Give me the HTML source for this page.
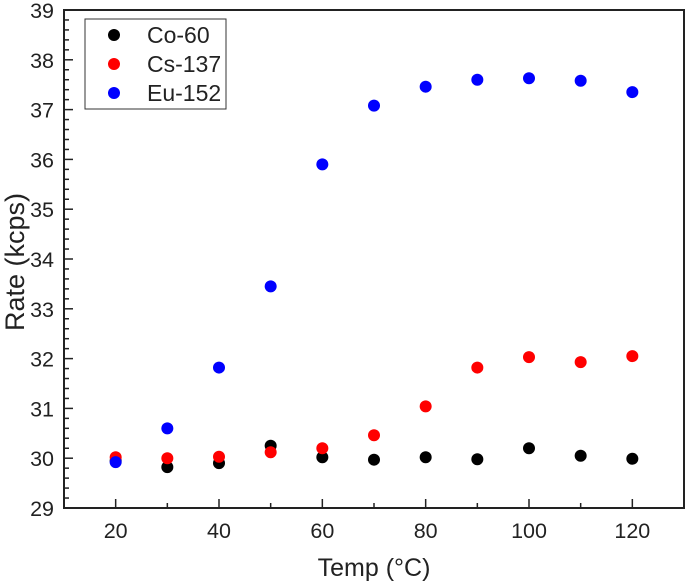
<!DOCTYPE html>
<html><head><meta charset="utf-8"><style>
html,body{margin:0;padding:0;background:#fff;}
svg{display:block;font-family:"Liberation Sans",Arial,sans-serif;}
</style></head><body>
<svg id="chart" width="686" height="582" viewBox="0 0 686 582"></svg>
<script>
const xValues=[20,30,40,50,60,70,80,90,100,110,120];
const coValues=[29.95,29.82,29.9,30.25,30.02,29.97,30.02,29.98,30.2,30.05,29.99];
const csValues=[30.02,30.0,30.03,30.12,30.2,30.46,31.04,31.82,32.03,31.93,32.05];
const euValues=[29.92,30.6,31.82,33.45,35.9,37.08,37.46,37.6,37.63,37.58,37.35];
const xTicks=[20,40,60,80,100,120];
const yTicks=[29,30,31,32,33,34,35,36,37,38,39];
const seriesNames=["Co-60","Cs-137","Eu-152"];
const seriesColors=["#000","#f00","#00f"];
const L=64,R=684,T=10,B=508;
const X=v=>L+(v-10)/120*(R-L);
const Y=v=>B-(v-29)/10*(B-T);
const svg=document.getElementById('chart');
const NS='http://www.w3.org/2000/svg';
function mk(tag,attrs,parent){const e=document.createElementNS(NS,tag);for(const k in attrs)e.setAttribute(k,attrs[k]);(parent||svg).appendChild(e);return e;}
let frame=mk('rect',{x:L,y:T,width:R-L,height:B-T,fill:'none',stroke:'#222','stroke-width':2});


for(let v=29;v<=39.001;v+=0.2){const major=Math.abs(v-Math.round(v))<0.01;
 let t=mk('line',{x1:L,x2:L+(major?9:5),y1:Y(v),y2:Y(v),stroke:'#222','stroke-width':1.5});
 
 }
yTicks.forEach(v=>{let t=mk('text',{x:54,y:Y(v)+8,'text-anchor':'end','font-size':21.5,fill:'#222'});t.textContent=v;
 
 });
for(let v=20;v<=120;v+=10){const major=v%20===0;
 let t=mk('line',{x1:X(v),x2:X(v),y1:B,y2:B-(major?9:5),stroke:'#222','stroke-width':1.5});
 
 }
xTicks.forEach(v=>{let t=mk('text',{x:X(v),y:538,'text-anchor':'middle','font-size':21.5,fill:'#222'});t.textContent=v;
 
 });
let xt=mk('text',{x:374,y:576,'text-anchor':'middle','font-size':25,fill:'#222'});xt.textContent='Temp (°C)';


let yt=mk('text',{x:0,y:0,'text-anchor':'middle','font-size':27,fill:'#222',transform:'translate(24,262) rotate(-90)'});yt.textContent='Rate (kcps)';


[coValues,csValues,euValues].forEach((arr,si)=>{arr.forEach((v,i)=>{
 let c=mk('circle',{cx:X(xValues[i]),cy:Y(v),r:6,fill:seriesColors[si]});
 
 });});
let lg=mk('g',{});


mk('rect',{x:85,y:19,width:141,height:90,fill:'#fff',stroke:'#333','stroke-width':1},lg);
seriesNames.forEach((n,i)=>{const yy=35+i*29;
 let e=mk('g',{},lg);
 
 
 mk('circle',{cx:114,cy:yy,r:6,fill:seriesColors[i]},e);
 let t=mk('text',{x:147,y:yy+8,'font-size':23,fill:'#222'},e);t.textContent=n;});
</script>
</body></html>
